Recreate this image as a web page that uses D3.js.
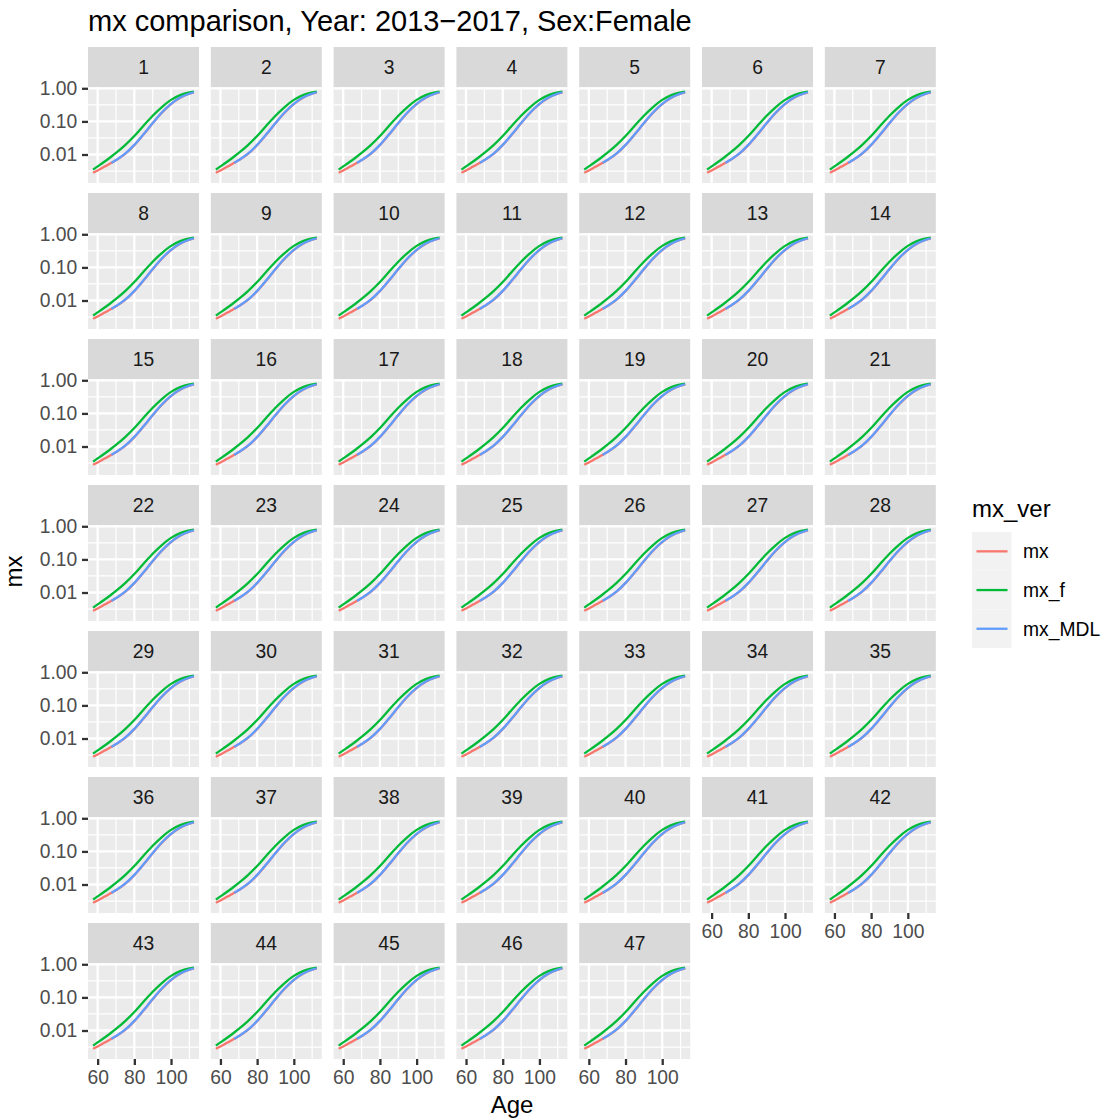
<!DOCTYPE html>
<html>
<head>
<meta charset="utf-8">
<script src="https://cdn.jsdelivr.net/npm/d3@7"></script>
<style>
  html, body { margin: 0; padding: 0; background: #ffffff; }
  svg { display: block; }
  text { font-family: "Liberation Sans", Arial, sans-serif; }
</style>
</head>
<body>
<svg id="chart" width="1111" height="1120"></svg>
<script>
// ---------------- data ----------------
const panels = [1,2,3,4,5,6,7,8,9,10,11,12,13,14,15,16,17,18,19,20,21,22,23,24,
  25,26,27,28,29,30,31,32,33,34,35,36,37,38,39,40,41,42,43,44,45,46,47];
const seriesNames = ["mx", "mx_f", "mx_MDL"];
const seriesColors = ["#F8766D", "#00BA38", "#619CFF"];

const ages    = [57.5, 60, 62.5, 65, 67.5, 70, 75, 80, 85, 90, 95, 100, 105, 110, 112.5];
const mx      = [0.0028, 0.0033, 0.0039, 0.0047, 0.0056, 0.0067, 0.0104, 0.0192, 0.040, 0.088, 0.183, 0.335, 0.52, 0.685, 0.75];
const mx_f    = [0.0035, 0.00437, 0.00543, 0.00684, 0.0087, 0.0112, 0.0193, 0.0363, 0.0741, 0.148, 0.272, 0.447, 0.624, 0.75, 0.79];
const agesMDL = [67.5, 70, 75, 80, 85, 90, 95, 100, 105, 110, 112.5];
const mx_MDL  = [0.0056, 0.0068, 0.0106, 0.0195, 0.0407, 0.0891, 0.186, 0.339, 0.525, 0.692, 0.759];

const xTicks = [60, 80, 100];
const xMinor = [50, 70, 90, 110];
const yTicks = [0.01, 0.10, 1.00];
const yTickLabels = ["0.01", "0.10", "1.00"];
const yMinor = [Math.pow(10, -2.5), Math.pow(10, -1.5), Math.pow(10, -0.5)];
const yLimits = [0.00138, 1.094];

const titleText = "mx comparison, Year: 2013\u22122017, Sex:Female";

// ---------------- layout ----------------
const nCol = 7;
const PW = 111, PH = 96, SH = 40;
const colPitch = 122.8, rowPitch = 146;
const left0 = 88, top0 = 47;
const FS = 19.3;

const svg = d3.select("#chart");

const ext = d3.extent(ages);
const pad = (ext[1] - ext[0]) * 0.05;
const x = d3.scaleLinear().domain([ext[0] - pad, ext[1] + pad]).range([0, PW]);
const y = d3.scaleLog().domain(yLimits).range([PH, 0]);

const seriesData = [
  ages.map((a, i) => ({age: a, v: mx[i]})),
  ages.map((a, i) => ({age: a, v: mx_f[i]})),
  agesMDL.map((a, i) => ({age: a, v: mx_MDL[i]}))
];

const line = d3.line().x(d => x(d.age)).y(d => y(d.v)).curve(d3.curveMonotoneX);

// title
svg.append("text").attr("x", left0).attr("y", 31)
  .attr("font-size", 29).attr("fill", "#000").text(titleText);

panels.forEach((p, idx) => {
  const c = idx % nCol, r = Math.floor(idx / nCol);
  const gx = left0 + c * colPitch, gy = top0 + r * rowPitch;
  const g = svg.append("g").attr("transform", `translate(${gx},${gy})`);

  // strip
  g.append("rect").attr("width", PW).attr("height", SH).attr("fill", "#D9D9D9");
  g.append("text").attr("x", PW / 2).attr("y", SH / 2 + 0.36 * FS)
    .attr("text-anchor", "middle").attr("font-size", FS).attr("fill", "#1A1A1A").text(p);

  const pg = g.append("g").attr("transform", `translate(0,${SH})`);
  pg.append("rect").attr("width", PW).attr("height", PH).attr("fill", "#EBEBEB");
  const clipId = "clip" + p;
  pg.append("clipPath").attr("id", clipId).append("rect").attr("width", PW).attr("height", PH);
  const inner = pg.append("g").attr("clip-path", `url(#${clipId})`);

  // minor grid
  inner.selectAll(".xm").data(xMinor).join("line")
    .attr("x1", d => x(d)).attr("x2", d => x(d)).attr("y1", 0).attr("y2", PH)
    .attr("stroke", "#fff").attr("stroke-width", 1.2);
  inner.selectAll(".ym").data(yMinor).join("line")
    .attr("y1", d => y(d)).attr("y2", d => y(d)).attr("x1", 0).attr("x2", PW)
    .attr("stroke", "#fff").attr("stroke-width", 1.2);
  // major grid
  inner.selectAll(".xM").data(xTicks).join("line")
    .attr("x1", d => x(d)).attr("x2", d => x(d)).attr("y1", 0).attr("y2", PH)
    .attr("stroke", "#fff").attr("stroke-width", 2.3);
  inner.selectAll(".yM").data(yTicks).join("line")
    .attr("y1", d => y(d)).attr("y2", d => y(d)).attr("x1", 0).attr("x2", PW)
    .attr("stroke", "#fff").attr("stroke-width", 2.3);

  // series lines
  seriesData.forEach((sd, si) => {
    inner.append("path").datum(sd).attr("d", line)
      .attr("fill", "none").attr("stroke", seriesColors[si])
      .attr("stroke-width", 2.3).attr("stroke-linejoin", "round").attr("stroke-linecap", "butt");
  });

  // y axis on first column
  if (c === 0) {
    const ya = d3.axisLeft(y).tickValues(yTicks).tickFormat((d, i) => yTickLabels[i])
      .tickSizeInner(6).tickSizeOuter(0).tickPadding(4.8);
    const ag = pg.append("g").call(ya);
    ag.select(".domain").remove();
    ag.selectAll("line").attr("stroke", "#333333").attr("stroke-width", 2.3);
    ag.selectAll("text").attr("font-size", FS).attr("fill", "#4D4D4D")
      .attr("font-family", "'Liberation Sans', Arial, sans-serif");
  }
  // x axis where no panel below
  const below = idx + nCol;
  if (below >= panels.length) {
    const xa = d3.axisBottom(x).tickValues(xTicks).tickFormat(d3.format("d"))
      .tickSizeInner(6).tickSizeOuter(0).tickPadding(4.8);
    const ag = pg.append("g").attr("transform", `translate(0,${PH})`).call(xa);
    ag.select(".domain").remove();
    ag.selectAll("line").attr("stroke", "#333333").attr("stroke-width", 2.3);
    ag.selectAll("text").attr("font-size", FS).attr("fill", "#4D4D4D")
      .attr("font-family", "'Liberation Sans', Arial, sans-serif");
  }
});

// axis titles
svg.append("text").attr("x", 512).attr("y", 1113).attr("text-anchor", "middle")
  .attr("font-size", 24).attr("fill", "#000").text("Age");
svg.append("text").attr("transform", "translate(22,571.5) rotate(-90)")
  .attr("text-anchor", "middle").attr("font-size", 24).attr("fill", "#000").text("mx");

// legend
const lg = svg.append("g").attr("transform", "translate(972,0)");
lg.append("text").attr("x", 0).attr("y", 517).attr("font-size", 24).attr("fill", "#000").text("mx_ver");
const keyH = 38.7, keyW = 39.5, keyTop = 532;
seriesNames.forEach((n, i) => {
  const ky = keyTop + i * keyH;
  lg.append("rect").attr("x", 0).attr("y", ky).attr("width", keyW).attr("height", keyH).attr("fill", "#F2F2F2");
  lg.append("line").attr("x1", 4.5).attr("x2", 35.5).attr("y1", ky + keyH / 2).attr("y2", ky + keyH / 2)
    .attr("stroke", seriesColors[i]).attr("stroke-width", 2.3);
  lg.append("text").attr("x", 51).attr("y", ky + keyH / 2 + 0.36 * FS)
    .attr("font-size", FS).attr("fill", "#000").text(n);
});
</script>
</body>
</html>
